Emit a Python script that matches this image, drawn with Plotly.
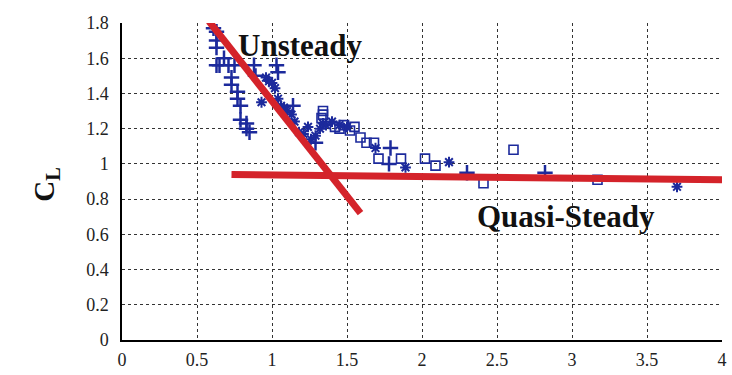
import plotly.graph_objects as go

# Cross (+) markers
plus_x = [0.61, 0.63, 0.63, 0.63, 0.68, 0.63, 0.75, 0.88, 0.73, 0.89, 0.65, 0.71, 1.03, 0.73, 1.04,
          0.77, 0.77, 0.79, 0.79, 0.83, 0.83, 0.85, 1.14, 1.29, 1.79, 1.78, 2.30, 2.82]
plus_y = [1.77, 1.75, 1.70, 1.66, 1.60, 1.56, 1.56, 1.56, 1.49, 1.50, 1.56, 1.56, 1.56, 1.45, 1.52,
          1.41, 1.37, 1.33, 1.25, 1.23, 1.20, 1.18, 1.33, 1.12, 1.09, 1.00, 0.95, 0.95]

# Asterisk (*) markers
star_x = [0.96, 0.98, 1.00, 1.02, 0.93, 1.04, 1.06, 1.08, 1.10, 1.13, 1.15, 1.18, 1.21, 1.24,
          1.26, 1.29, 1.32, 1.34, 1.36, 1.40, 1.45, 1.50, 1.69, 1.89, 2.18, 3.70]
star_y = [1.49, 1.47, 1.46, 1.43, 1.35, 1.37, 1.33, 1.32, 1.30, 1.28, 1.24, 1.18, 1.17, 1.21,
          1.14, 1.16, 1.20, 1.23, 1.22, 1.24, 1.22, 1.21, 1.09, 0.98, 1.01, 0.87]

# Open square markers
sq_x = [1.34, 1.34, 1.33, 1.42, 1.45, 1.48, 1.52, 1.55, 1.59, 1.63, 1.68, 1.71, 1.86, 2.02,
        2.09, 2.41, 2.61, 3.17]
sq_y = [1.30, 1.28, 1.26, 1.21, 1.20, 1.22, 1.19, 1.21, 1.15, 1.12, 1.12, 1.03, 1.03, 1.03,
        0.99, 0.89, 1.08, 0.91]

# Red trend lines
unsteady_x = [0.58, 1.59]
unsteady_y = [1.81, 0.72]
quasi_x = [0.73, 4.0]
quasi_y = [0.94, 0.91]

x_ticks = [0, 0.5, 1, 1.5, 2, 2.5, 3, 3.5, 4]
x_labels = ["0", "0.5", "1", "1.5", "2", "2.5", "3", "3.5", "4"]
y_ticks = [0, 0.2, 0.4, 0.6, 0.8, 1.0, 1.2, 1.4, 1.6, 1.8]
y_labels = ["0", "0.2", "0.4", "0.6", "0.8", "1", "1.2", "1.4", "1.6", "1.8"]

blue = "#1c2a9c"
red = "#d4232a"
serif = "Liberation Serif"

fig = go.Figure()
fig.add_trace(go.Scatter(x=plus_x, y=plus_y, mode="markers",
                         marker=dict(symbol="cross-thin-open", size=11, color=blue,
                                     line=dict(color=blue, width=2.5))))
fig.add_trace(go.Scatter(x=star_x, y=star_y, mode="markers",
                         marker=dict(symbol="asterisk-open", size=9, color=blue,
                                     line=dict(color=blue, width=2))))
fig.add_trace(go.Scatter(x=sq_x, y=sq_y, mode="markers",
                         marker=dict(symbol="square-open", size=9, color=blue,
                                     line=dict(color=blue, width=1.6))))
fig.add_trace(go.Scatter(x=unsteady_x, y=unsteady_y, mode="lines",
                         line=dict(color=red, width=7)))
fig.add_trace(go.Scatter(x=quasi_x, y=quasi_y, mode="lines",
                         line=dict(color=red, width=7)))

fig.add_annotation(x=1.19, y=1.675, text="<b>Unsteady</b>", showarrow=False,
                   font=dict(family=serif, size=31, color="#111111"))
fig.add_annotation(x=2.96, y=0.70, text="<b>Quasi-Steady</b>", showarrow=False,
                   font=dict(family=serif, size=31, color="#111111"))
fig.add_annotation(xref="paper", yref="paper", x=-0.16, y=0.49,
                   text="<b>C<sub>L</sub></b>", textangle=-90, showarrow=False,
                   font=dict(family=serif, size=29, color="#111111"))

fig.update_layout(
    width=732, height=375,
    margin=dict(l=122, r=5, t=23, b=35),
    paper_bgcolor="white", plot_bgcolor="white",
    showlegend=False,
    font=dict(family=serif, size=18, color="#222222"),
    xaxis=dict(range=[0, 4], tickmode="array", tickvals=x_ticks, ticktext=x_labels,
               tickfont=dict(family=serif, size=18, color="#222222"),
               showgrid=True, gridcolor="#333333", griddash="dot", gridwidth=1,
               showline=True, linecolor="black", linewidth=1.5, zeroline=False,
               ticks="outside", ticklen=3, tickcolor="rgba(0,0,0,0)"),
    yaxis=dict(range=[0, 1.8], tickmode="array", tickvals=y_ticks, ticktext=y_labels,
               tickfont=dict(family=serif, size=18, color="#222222"),
               showgrid=True, gridcolor="#333333", griddash="dot", gridwidth=1,
               showline=True, linecolor="black", linewidth=1.5, zeroline=False,
               ticks="outside", ticklen=8, tickcolor="rgba(0,0,0,0)"),
)

fig.write_html("out.html")
